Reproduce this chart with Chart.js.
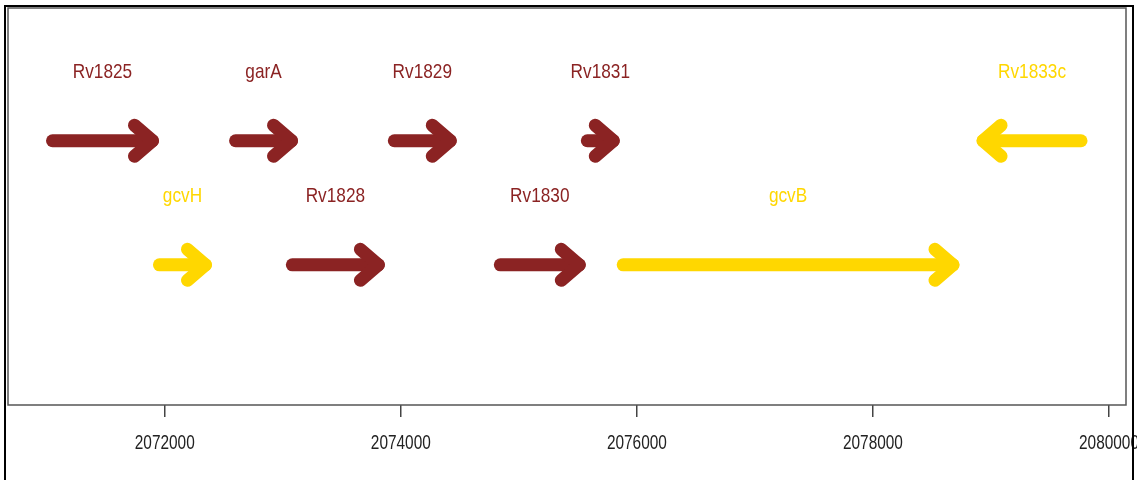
<!DOCTYPE html>
<html lang="en">
<head>
    <meta charset="UTF-8">
    <title>Gene map</title>
    <script src="https://cdn.jsdelivr.net/npm/chart.js"></script>
    <style>
        body {
            margin: 0;
            background: #fff;
        }
        canvas {
            display: block;
        }
    </style>
</head>
<body>
    <canvas id="geneChart" width="1137" height="480"></canvas>

    <script>
        // genes (genomic coordinates)
        const geneNames  = ['Rv1825', 'gcvH', 'garA', 'Rv1828', 'Rv1829', 'Rv1830', 'Rv1831', 'gcvB', 'Rv1833c'];
        const geneStart  = [2071049, 2071955, 2072600, 2073081, 2073945, 2074843, 2075580, 2075884, 2079763];
        const geneEnd    = [2071896, 2072345, 2073074, 2073810, 2074419, 2075512, 2075800, 2078678, 2078933];
        const geneTrack  = [2, 1, 2, 1, 2, 1, 2, 1, 2];
        const geneGroup  = ['other', 'gcv', 'other', 'other', 'other', 'other', 'other', 'gcv', 'gcv'];
        const xTicks     = [2072000, 2074000, 2076000, 2078000, 2080000];

        const groupColors = { other: '#8B2323', gcv: '#FFD700' };
        const ARROW_W = 13;
        const FONT_FAMILY = '"Liberation Sans", Arial, sans-serif';

        const datasets = geneNames.map((name, i) => ({
            label: name,
            data: [{ x: geneStart[i], y: geneTrack[i] }, { x: geneEnd[i], y: geneTrack[i] }],
            showLine: true,
            borderColor: groupColors[geneGroup[i]],
            borderWidth: ARROW_W,
            borderCapStyle: 'round',
            pointRadius: 0
        }));

        // narrow text: squeeze horizontally around the anchor
        function narrowText(ctx, text, x, y, size, squeeze) {
            ctx.save();
            ctx.translate(x, y);
            ctx.scale(squeeze, 1);
            ctx.font = size + 'px ' + FONT_FAMILY;
            ctx.textAlign = 'center';
            ctx.textBaseline = 'middle';
            ctx.fillText(text, 0, 0);
            ctx.restore();
        }

        // arrow heads, gene labels, tick labels and the frames
        const geneDecor = {
            id: 'geneDecor',
            afterDatasetsDraw(chart) {
                const ctx = chart.ctx;
                const xs = chart.scales.x, ys = chart.scales.y;
                ctx.save();
                ctx.lineWidth = ARROW_W;
                ctx.lineCap = 'round';
                ctx.lineJoin = 'round';
                geneNames.forEach((name, i) => {
                    const color = groupColors[geneGroup[i]];
                    const x0 = xs.getPixelForValue(geneStart[i]);
                    const x1 = xs.getPixelForValue(geneEnd[i]);
                    const y = ys.getPixelForValue(geneTrack[i]);
                    const dir = x1 > x0 ? 1 : -1;
                    ctx.strokeStyle = color;
                    ctx.beginPath();
                    ctx.moveTo(x1 - dir * 18, y - 15.5);
                    ctx.lineTo(x1, y);
                    ctx.lineTo(x1 - dir * 18, y + 15.5);
                    ctx.stroke();

                    ctx.fillStyle = color;
                    narrowText(ctx, name, (x0 + x1) / 2, ys.getPixelForValue(geneTrack[i] + 0.55), 21, 0.82);
                });
                ctx.restore();
            },
            afterDraw(chart) {
                const ctx = chart.ctx;
                const a = chart.chartArea;
                const xs = chart.scales.x;
                ctx.save();
                ctx.fillStyle = '#222';
                xs.ticks.forEach(t => {
                    narrowText(ctx, String(t.value), xs.getPixelForValue(t.value), 444, 19.5, 0.79);
                });
                ctx.strokeStyle = '#555';
                ctx.lineWidth = 1.5;
                ctx.strokeRect(a.left, a.top, a.right - a.left, a.bottom - a.top);
                ctx.strokeStyle = '#000';
                ctx.lineWidth = 2;
                ctx.strokeRect(5, 6, 1128, 490);
                ctx.restore();
            }
        };

        new Chart(document.getElementById('geneChart'), {
            type: 'scatter',
            data: { datasets: datasets },
            options: {
                responsive: false,
                animation: false,
                layout: { padding: { left: 8, right: 11, top: 8, bottom: 0 } },
                plugins: { legend: { display: false }, tooltip: { enabled: false } },
                scales: {
                    x: {
                        type: 'linear',
                        min: 2070672,
                        max: 2080144,
                        afterBuildTicks: s => { s.ticks = xTicks.map(v => ({ value: v })); },
                        afterFit: s => {
                            s.height = 75;
                            s.paddingLeft = 0;
                            s.paddingRight = 0;
                        },
                        grid: { drawOnChartArea: false, tickLength: 12, color: '#444', lineWidth: 1.5 },
                        border: { display: false },
                        ticks: { display: false }
                    },
                    y: {
                        display: false,
                        min: -0.13,
                        max: 3.07
                    }
                }
            },
            plugins: [geneDecor]
        });
    </script>
</body>
</html>
